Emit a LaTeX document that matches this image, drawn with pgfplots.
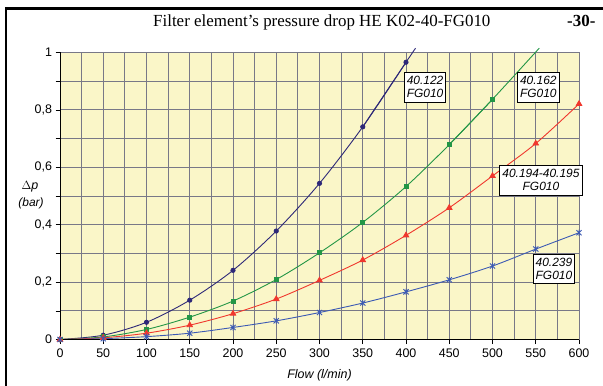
\documentclass[border=0pt]{standalone}
\usepackage{fontspec}
\setmainfont{Liberation Serif}
\setsansfont{Liberation Sans}
\usepackage{pgfplots}
\pgfplotsset{compat=1.18}
\definecolor{bgy}{RGB}{250,246,200}
\definecolor{gridc}{RGB}{120,120,135}
\definecolor{navy}{RGB}{45,40,120}
\definecolor{grn}{RGB}{35,150,70}
\definecolor{rd}{RGB}{240,55,45}
\definecolor{blu}{RGB}{60,90,180}
\pgfdeclareplotmark{xstar}{%
 \pgfpathmoveto{\pgfqpoint{-\pgfplotmarksize}{-\pgfplotmarksize}}%
 \pgfpathlineto{\pgfqpoint{\pgfplotmarksize}{\pgfplotmarksize}}%
 \pgfpathmoveto{\pgfqpoint{-\pgfplotmarksize}{\pgfplotmarksize}}%
 \pgfpathlineto{\pgfqpoint{\pgfplotmarksize}{-\pgfplotmarksize}}%
 \pgfpathmoveto{\pgfqpoint{0pt}{-1.2\pgfplotmarksize}}%
 \pgfpathlineto{\pgfqpoint{0pt}{1.2\pgfplotmarksize}}%
 \pgfusepathqstroke}
\tikzset{lbox/.style={draw=black, fill=white, align=center, line width=0.8bp,
  font=\sffamily\itshape\fontsize{12}{13}\selectfont, inner xsep=2.5bp, inner ysep=4bp}}
\begin{document}
\begin{tikzpicture}[x=1bp,y=1bp]
\useasboundingbox (0,0) rectangle (603,385);
\fill[white] (0,0) rectangle (603,385);
\draw[line width=2.5bp] (6,-20) -- (6,376.5) -- (640,376.5);
\node[font=\fontsize{17}{17}\selectfont, anchor=base west, inner sep=0pt] at (153,358.5) {Filter element’s pressure drop HE K02-40-FG010};
\node[font=\bfseries\fontsize{17}{17}\selectfont, anchor=base west, inner sep=0pt] at (567,358.5) {-30-};
\node[font=\sffamily\fontsize{12.5}{12.5}\selectfont] at (30,198) {$\Delta$\textit{p}};
\node[font=\sffamily\itshape\fontsize{12}{12}\selectfont] at (31,182) {(bar)};
\node[font=\sffamily\itshape\fontsize{12.5}{12.5}\selectfont] at (319.5,10) {Flow (l/min)};
\begin{axis}[
  at={(60bp,45.5bp)}, anchor=south west, scale only axis,
  width=519bp, height=287bp,
  xmin=0, xmax=600, ymin=0, ymax=1,
  clip=false,
  axis background/.style={fill=bgy},
  xtick={0,50,...,600},
  xticklabels={0,50,100,150,200,250,300,350,400,450,500,550,600},
  minor x tick num=1,
  ytick={0,0.1,0.2,0.3,0.4,0.5,0.6,0.7,0.8,0.9,1},
  yticklabels={0,,{0,2},,{0,4},,{0,6},,{0,8},,1},
  minor tick length=0pt,
  major tick length=4.5bp,
  tick align=outside,
  tick style={black, line width=0.6bp},
  xtick pos=bottom, ytick pos=left,
  grid=both,
  major grid style={gridc, line width=0.8bp},
  minor grid style={gridc, line width=0.8bp},
  axis line style={gridc, line width=0.8bp},
  ticklabel style={font=\sffamily\fontsize{12.5}{12.5}\selectfont},
  xticklabel style={yshift=-1bp},
  yticklabel style={xshift=0bp},
]
\addplot[navy, line width=0.9bp, smooth, mark=*, mark size=2.1bp, mark options={solid}]
 coordinates {(0,0) (50,0.015) (100,0.06) (150,0.137) (200,0.241) (250,0.378) (300,0.544) (350,0.741) (400,0.966)};
\addplot[navy, line width=0.9bp, smooth] coordinates {(350,0.741) (400,0.966) (411,1.015)};
\addplot[grn, line width=0.9bp, smooth, mark=square*, mark size=2.0bp]
 coordinates {(0,0) (50,0.009) (100,0.035) (150,0.078) (200,0.134) (250,0.209) (300,0.302) (350,0.408) (400,0.533) (450,0.679) (500,0.837)};
\addplot[grn, line width=0.9bp, smooth] coordinates {(450,0.679) (500,0.837) (554,1.015)};
\addplot[rd, line width=0.9bp, smooth, mark=triangle*, mark size=3.1bp]
 coordinates {(0,0) (50,0.006) (100,0.022) (150,0.05) (200,0.09) (250,0.141) (300,0.206) (350,0.277) (400,0.363) (450,0.459) (500,0.57) (550,0.683) (600,0.821)};
\addplot[blu, line width=0.9bp, smooth, mark=xstar, mark size=2.6bp]
 coordinates {(0,0) (50,0.003) (100,0.01) (150,0.022) (200,0.042) (250,0.065) (300,0.094) (350,0.127) (400,0.166) (450,0.208) (500,0.256) (550,0.315) (600,0.372)};
\draw[black, line width=0.9bp] (axis cs:0,1) -- (axis cs:0,0) -- (axis cs:600,0);
\node[lbox] at (axis cs:422,0.879) {40.122\\FG010};
\node[lbox] at (axis cs:553,0.879) {40.162\\FG010};
\node[lbox] at (axis cs:556,0.555) {40.194-40.195\\FG010};
\node[lbox] at (axis cs:571,0.246) {40.239\\FG010};
\end{axis}
\end{tikzpicture}
\end{document}
